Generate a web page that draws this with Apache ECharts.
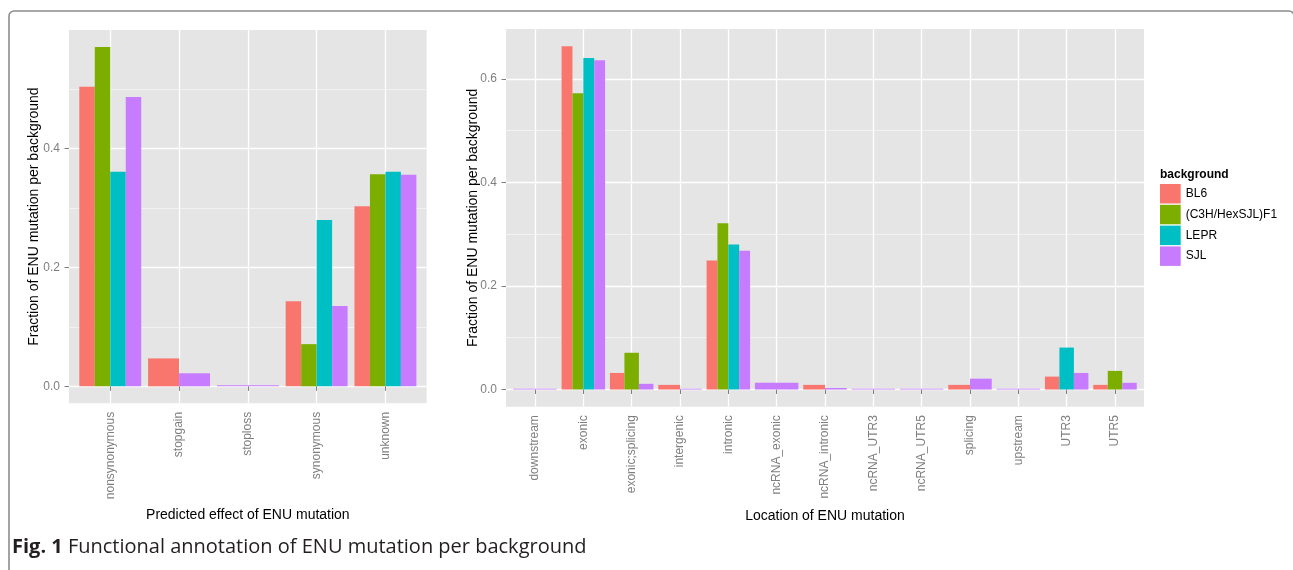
<!DOCTYPE html>
<html><head><meta charset="utf-8">
<script src="https://cdn.jsdelivr.net/npm/echarts@6/dist/echarts.min.js"></script>
<style>html,body{margin:0;padding:0;background:#fff}#c{width:1293px;height:570px}</style>
</head><body><div id="c"></div><script>
const groups = ['BL6', '(C3H/HexSJL)F1', 'LEPR', 'SJL'];
const colors = ['#F8766D', '#7CAE00', '#00BFC4', '#C77CFF'];

const effectCats = ['nonsynonymous', 'stopgain', 'stoploss', 'synonymous', 'unknown'];
const effBL6  = [0.504, 0.047, null, 0.143, 0.303];
const effF1   = [0.571, null, null, 0.071, 0.357];
const effLEPR = [0.361, null, null, 0.280, 0.361];
const effSJL  = [0.487, 0.022, 0.002, 0.135, 0.356];

const locCats = ['downstream', 'exonic', 'exonic;splicing', 'intergenic', 'intronic', 'ncRNA_exonic',
  'ncRNA_intronic', 'ncRNA_UTR3', 'ncRNA_UTR5', 'splicing', 'upstream', 'UTR3', 'UTR5'];
const locBL6  = [null, 0.663, 0.032, 0.009, 0.249, null, 0.009, null, null, 0.009, null, 0.025, 0.009];
const locF1   = [null, 0.572, 0.071, null, 0.321, null, null, null, null, null, null, null, 0.036];
const locLEPR = [null, 0.640, null, null, 0.280, null, null, null, null, null, null, 0.081, null];
const locSJL  = [0.0015, 0.636, 0.011, 0.0015, 0.268, 0.013, 0.003, 0.0015, 0.0015, 0.021, 0.0015, 0.032, 0.013];

const leftMajor = [0, 0.2, 0.4];
const leftMinor = [0.1, 0.3, 0.5];
const rightMajor = [0, 0.2, 0.4, 0.6];
const rightMinor = [0.1, 0.3, 0.5];

const FONT = 'Liberation Sans, Arial, Helvetica, sans-serif';
const CAPFONT = 'Open Sans, Noto Sans, sans-serif';
const effSets = [effBL6, effF1, effLEPR, effSJL];
const locSets = [locBL6, locF1, locLEPR, locSJL];
const maxOf = sets => Math.max(...sets.flat().filter(v => v != null));
const lMax = maxOf(effSets), rMax = maxOf(locSets);

function makeRender(sets, g) {
  return function (params, api) {
    const c = api.value(0), v = api.value(1);
    const present = [];
    sets.forEach((s, k) => { if (s[c] != null) present.push(k); });
    const n = present.length, r = present.indexOf(g);
    const unit = api.size([1, 0])[0];
    const total = unit * 0.9, w = total / n;
    const p0 = api.coord([c, 0]), p1 = api.coord([c, v]);
    return {
      type: 'rect',
      shape: { x: p0[0] - total / 2 + r * w, y: p1[1], width: w, height: p0[1] - p1[1] },
      style: { fill: colors[g] }
    };
  };
}

function xAxisFor(gi, cats, name, gap) {
  const idx = cats.map((_, i) => i);
  return {
    type: 'value', gridIndex: gi, min: -0.6, max: cats.length - 1 + 0.6,
    axisLine: { show: false },
    axisTick: { show: true, length: 4.5, customValues: idx, lineStyle: { color: '#7f7f7f', width: 1 } },
    axisLabel: { customValues: idx, rotate: 90, margin: 8.5, color: '#7f7f7f', fontSize: 12, fontFamily: FONT,
      formatter: v => cats[Math.round(v)] },
    splitLine: { show: true, lineStyle: { color: '#ffffff', width: 1.3 } },
    name: name, nameLocation: 'middle', nameGap: gap, nameMoveOverlap: false,
    nameTextStyle: { color: '#000', fontSize: 14, fontFamily: FONT }
  };
}
function yAxisMajor(gi, mx, ticks, gap) {
  return {
    type: 'value', gridIndex: gi, min: -0.05 * mx, max: 1.05 * mx, position: 'left',
    axisLine: { show: false },
    axisTick: { show: true, length: 4.5, customValues: ticks, lineStyle: { color: '#7f7f7f', width: 1 } },
    axisLabel: { customValues: ticks, margin: 9, color: '#7f7f7f', fontSize: 12, fontFamily: FONT,
      formatter: v => v.toFixed(1) },
    splitLine: { show: true, lineStyle: { color: '#ffffff', width: 1.3 } },
    name: 'Fraction of ENU mutation per background', nameLocation: 'middle', nameGap: gap, nameMoveOverlap: false,
    nameTextStyle: { color: '#000', fontSize: 14, fontFamily: FONT }
  };
}
function yAxisMinor(gi, mx, ticks) {
  return {
    type: 'value', gridIndex: gi, min: -0.05 * mx, max: 1.05 * mx, position: 'right',
    axisLine: { show: false },
    axisTick: { show: false, customValues: ticks },
    axisLabel: { show: false, customValues: ticks },
    splitLine: { show: true, lineStyle: { color: '#f2f2f2', width: 1 } }
  };
}

const series = [];
[[effSets, 0], [locSets, 1]].forEach(([sets, gi]) => {
  sets.forEach((s, g) => {
    series.push({
      type: 'custom', name: groups[g], xAxisIndex: gi, yAxisIndex: gi * 2 + 1,
      itemStyle: { color: colors[g] },
      encode: { x: 0, y: 1 },
      renderItem: makeRender(sets, g),
      data: s.map((v, i) => v == null ? null : [i, v]).filter(d => d)
    });
  });
});

const chart = echarts.init(document.getElementById('c'), null, { renderer: 'canvas' });
chart.setOption({
  animation: false,
  grid: [
    { left: 69, top: 30, width: 357.7, height: 373.3, show: true, backgroundColor: '#e5e5e5', borderWidth: 0 },
    { left: 506, top: 29, width: 638, height: 377.7, show: true, backgroundColor: '#e5e5e5', borderWidth: 0 }
  ],
  xAxis: [
    xAxisFor(0, effectCats, 'Predicted effect of ENU mutation', 105),
    xAxisFor(1, locCats, 'Location of ENU mutation', 102)
  ],
  yAxis: [
    yAxisMinor(0, lMax, leftMinor),
    yAxisMajor(0, lMax, leftMajor, 28),
    yAxisMinor(1, rMax, rightMinor),
    yAxisMajor(1, rMax, rightMajor, 26)
  ],
  legend: {
    orient: 'vertical', left: 1160, top: 184, itemWidth: 20.7, itemHeight: 19.5, itemGap: 1.3,
    icon: 'rect', padding: 0, data: groups,
    textStyle: { color: '#000', fontSize: 12, fontFamily: FONT },
    selectedMode: false
  },
  graphic: [
    { type: 'rect', silent: true, shape: { x: 9, y: 11, width: 1285, height: 620, r: [5, 5, 0, 0] },
      style: { fill: 'none', stroke: '#8c8c8c', lineWidth: 1.6 } },
    { type: 'text', left: 1160, top: 169,
      style: { text: 'background', fontSize: 12, fontWeight: 'bold', fontFamily: FONT, fill: '#000' } },
    { type: 'text', left: 12, top: 537,
      style: { text: '{b|Fig. 1} Functional annotation of ENU mutation per background',
        fontSize: 20, fontFamily: CAPFONT, fill: '#231f20',
        rich: { b: { fontWeight: 'bold', fontSize: 20, fontFamily: CAPFONT, fill: '#231f20' } } } }
  ],
  series: series
});
</script></body></html>
